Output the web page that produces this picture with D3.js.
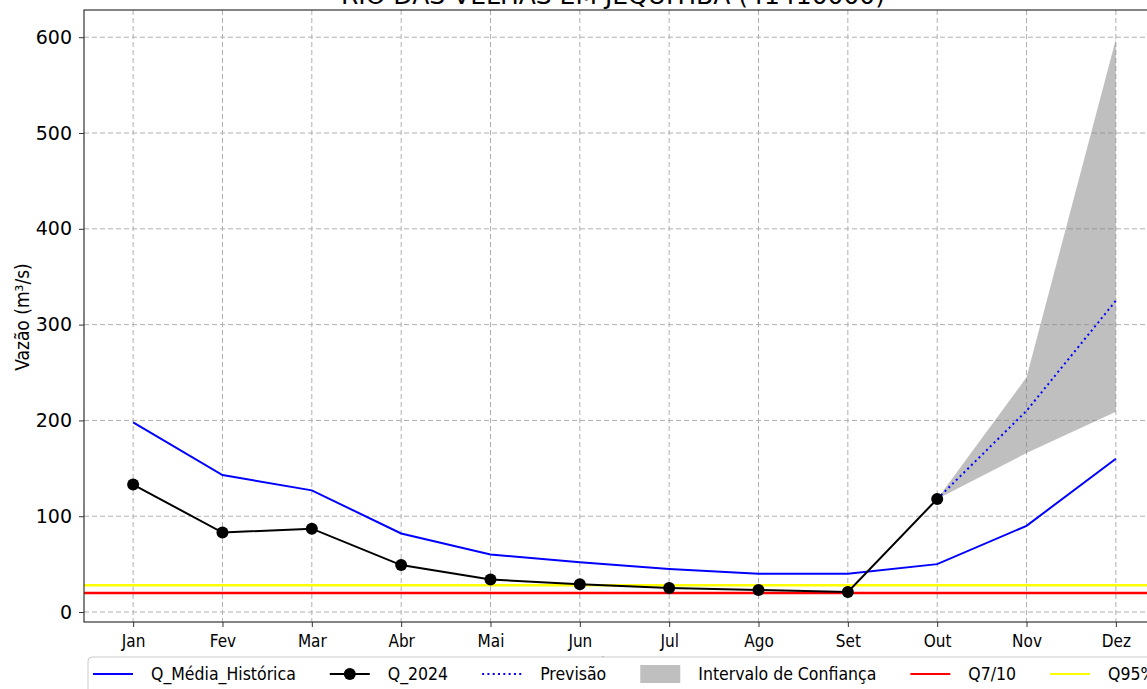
<!DOCTYPE html>
<html><head><meta charset="utf-8">
<script src="https://cdn.jsdelivr.net/npm/d3@7"></script>
<style>body{margin:0;background:#fff;overflow:hidden}svg{display:block}</style>
</head><body>
<svg id="c" width="1147" height="689"></svg>
<script>
const months = ["Jan","Fev","Mar","Abr","Mai","Jun","Jul","Ago","Set","Out","Nov","Dez"];
const qMedia = [198,143,127,82,60,52,45,40,40,50,90,160];
const q2024 = [133,83,87,49,34,29,25,23,21,118];
const prevMonths = ["Out","Nov","Dez"];
const previsao = [118,210,325];
const icLower = [118,166,209];
const icUpper = [118,245,598];
const q710 = 20;
const q95 = 28;
const yTicks = [0,100,200,300,400,500,600];
const title = "RIO DAS VELHAS EM JEQUITIBÁ (41410000)";

const svg = d3.select("#c");
const L = 84, R = 1165, T = 10, B = 622;
const x = d3.scaleLinear().domain([-0.55, 11.55]).range([L, R]);
const y = d3.scaleLinear().domain([-10.4, 628.4]).range([B, T]);
const mi = m => months.indexOf(m);

svg.append("defs").append("clipPath").attr("id","clp")
  .append("rect").attr("x",L).attr("y",T).attr("width",R-L).attr("height",B-T);

// grid
const g = svg.append("g").attr("clip-path","url(#clp)");
g.selectAll(".gx").data(months).enter().append("line")
  .attr("x1",(d,i)=>x(i)).attr("x2",(d,i)=>x(i)).attr("y1",T).attr("y2",B)
  .attr("stroke","#b0b0b0").attr("stroke-width",1).attr("stroke-dasharray","5,3");
g.selectAll(".gy").data(yTicks).enter().append("line")
  .attr("x1",L).attr("x2",R).attr("y1",d=>y(d)).attr("y2",d=>y(d))
  .attr("stroke","#b0b0b0").attr("stroke-width",1).attr("stroke-dasharray","5,3");

// confidence interval
const area = d3.area().x((d,i)=>x(mi(prevMonths[i]))).y0((d,i)=>y(icLower[i])).y1((d,i)=>y(icUpper[i]));
g.append("path").datum(prevMonths).attr("d",area).attr("fill","#808080").attr("fill-opacity",0.5);

// Q7/10 and Q95
g.append("line").attr("x1",L).attr("x2",R).attr("y1",y(q710)).attr("y2",y(q710)).attr("stroke","#ff0000").attr("stroke-width",2.5);
g.append("line").attr("x1",L).attr("x2",R).attr("y1",y(q95)).attr("y2",y(q95)).attr("stroke","#ffff00").attr("stroke-width",2.5);

// media
const line = d3.line().x((d,i)=>x(i)).y(d=>y(d));
g.append("path").datum(qMedia).attr("d",line).attr("fill","none").attr("stroke","#0000ff").attr("stroke-width",2);
// previsao
const lineP = d3.line().x((d,i)=>x(mi(prevMonths[i]))).y(d=>y(d));
g.append("path").datum(previsao).attr("d",lineP).attr("fill","none").attr("stroke","#0000ff").attr("stroke-width",2).attr("stroke-dasharray","2,3.3");
// q2024
g.append("path").datum(q2024).attr("d",line).attr("fill","none").attr("stroke","#000").attr("stroke-width",2);
g.selectAll(".pt").data(q2024).enter().append("circle")
  .attr("cx",(d,i)=>x(i)).attr("cy",d=>y(d)).attr("r",6).attr("fill","#000");

// spines
svg.append("rect").attr("x",L).attr("y",T).attr("width",R-L).attr("height",B-T)
  .attr("fill","none").attr("stroke","#333").attr("stroke-width",1.2);

// axes
const xa = svg.append("g").attr("transform",`translate(0,${B})`)
  .call(d3.axisBottom(x).tickValues(d3.range(12)).tickFormat(i=>months[i]).tickSize(5).tickPadding(8));
xa.select(".domain").remove();
xa.selectAll("text").attr("font-family","DejaVu Sans Condensed, DejaVu Sans").attr("font-size",17).attr("fill","#000");
xa.selectAll("line").attr("stroke","#333");

const ya = svg.append("g").attr("transform",`translate(${L},0)`)
  .call(d3.axisLeft(y).tickValues(yTicks).tickSize(5).tickPadding(7));
ya.select(".domain").remove();
ya.selectAll("text").attr("font-family","DejaVu Sans").attr("font-size",19).attr("fill","#000");
ya.selectAll("line").attr("stroke","#333");

svg.append("text").attr("transform","translate(29,317) rotate(-90)").attr("text-anchor","middle")
  .attr("font-family","DejaVu Sans Condensed, DejaVu Sans").attr("font-size",19).text("Vazão (m³/s)");
svg.append("text").attr("x",600).attr("y",671).attr("text-anchor","middle")
  .attr("font-family","DejaVu Sans Condensed, DejaVu Sans").attr("font-size",17).text("Mês");

svg.append("text").attr("x",613).attr("y",4).attr("text-anchor","middle")
  .attr("font-family","DejaVu Sans").attr("font-size",25).text(title);

// legend
const leg = svg.append("g");
leg.append("rect").attr("x",88).attr("y",657).attr("width",1100).attr("height",50).attr("rx",4)
  .attr("fill","#fff").attr("fill-opacity",1).attr("stroke","#ccc");
const items = [
  {label:"Q_Média_Histórica", type:"line", color:"#0000ff"},
  {label:"Q_2024", type:"marker", color:"#000"},
  {label:"Previsão", type:"dot", color:"#0000ff"},
  {label:"Intervalo de Confiança", type:"patch", color:"#808080"},
  {label:"Q7/10", type:"line", color:"#ff0000"},
  {label:"Q95%", type:"line", color:"#ffff00"}
];
let cx = 93;
const ly = 674;
items.forEach(it=>{
  const gi = leg.append("g");
  if(it.type==="patch"){
    gi.append("rect").attr("x",cx).attr("y",ly-9).attr("width",40).attr("height",18).attr("fill",it.color).attr("fill-opacity",0.5);
  } else {
    const ln = gi.append("line").attr("x1",cx).attr("x2",cx+40).attr("y1",ly).attr("y2",ly).attr("stroke",it.color).attr("stroke-width",2);
    if(it.type==="dot") ln.attr("stroke-dasharray","2,3.3");
    if(it.type==="marker") gi.append("circle").attr("cx",cx+20).attr("cy",ly).attr("r",6).attr("fill","#000");
  }
  const t = gi.append("text").attr("x",cx+58).attr("y",ly+6).attr("font-family","DejaVu Sans Condensed, DejaVu Sans").attr("font-size",17.5).text(it.label);
  cx = cx + 58 + t.node().getComputedTextLength() + 34;
});
</script>
</body></html>
